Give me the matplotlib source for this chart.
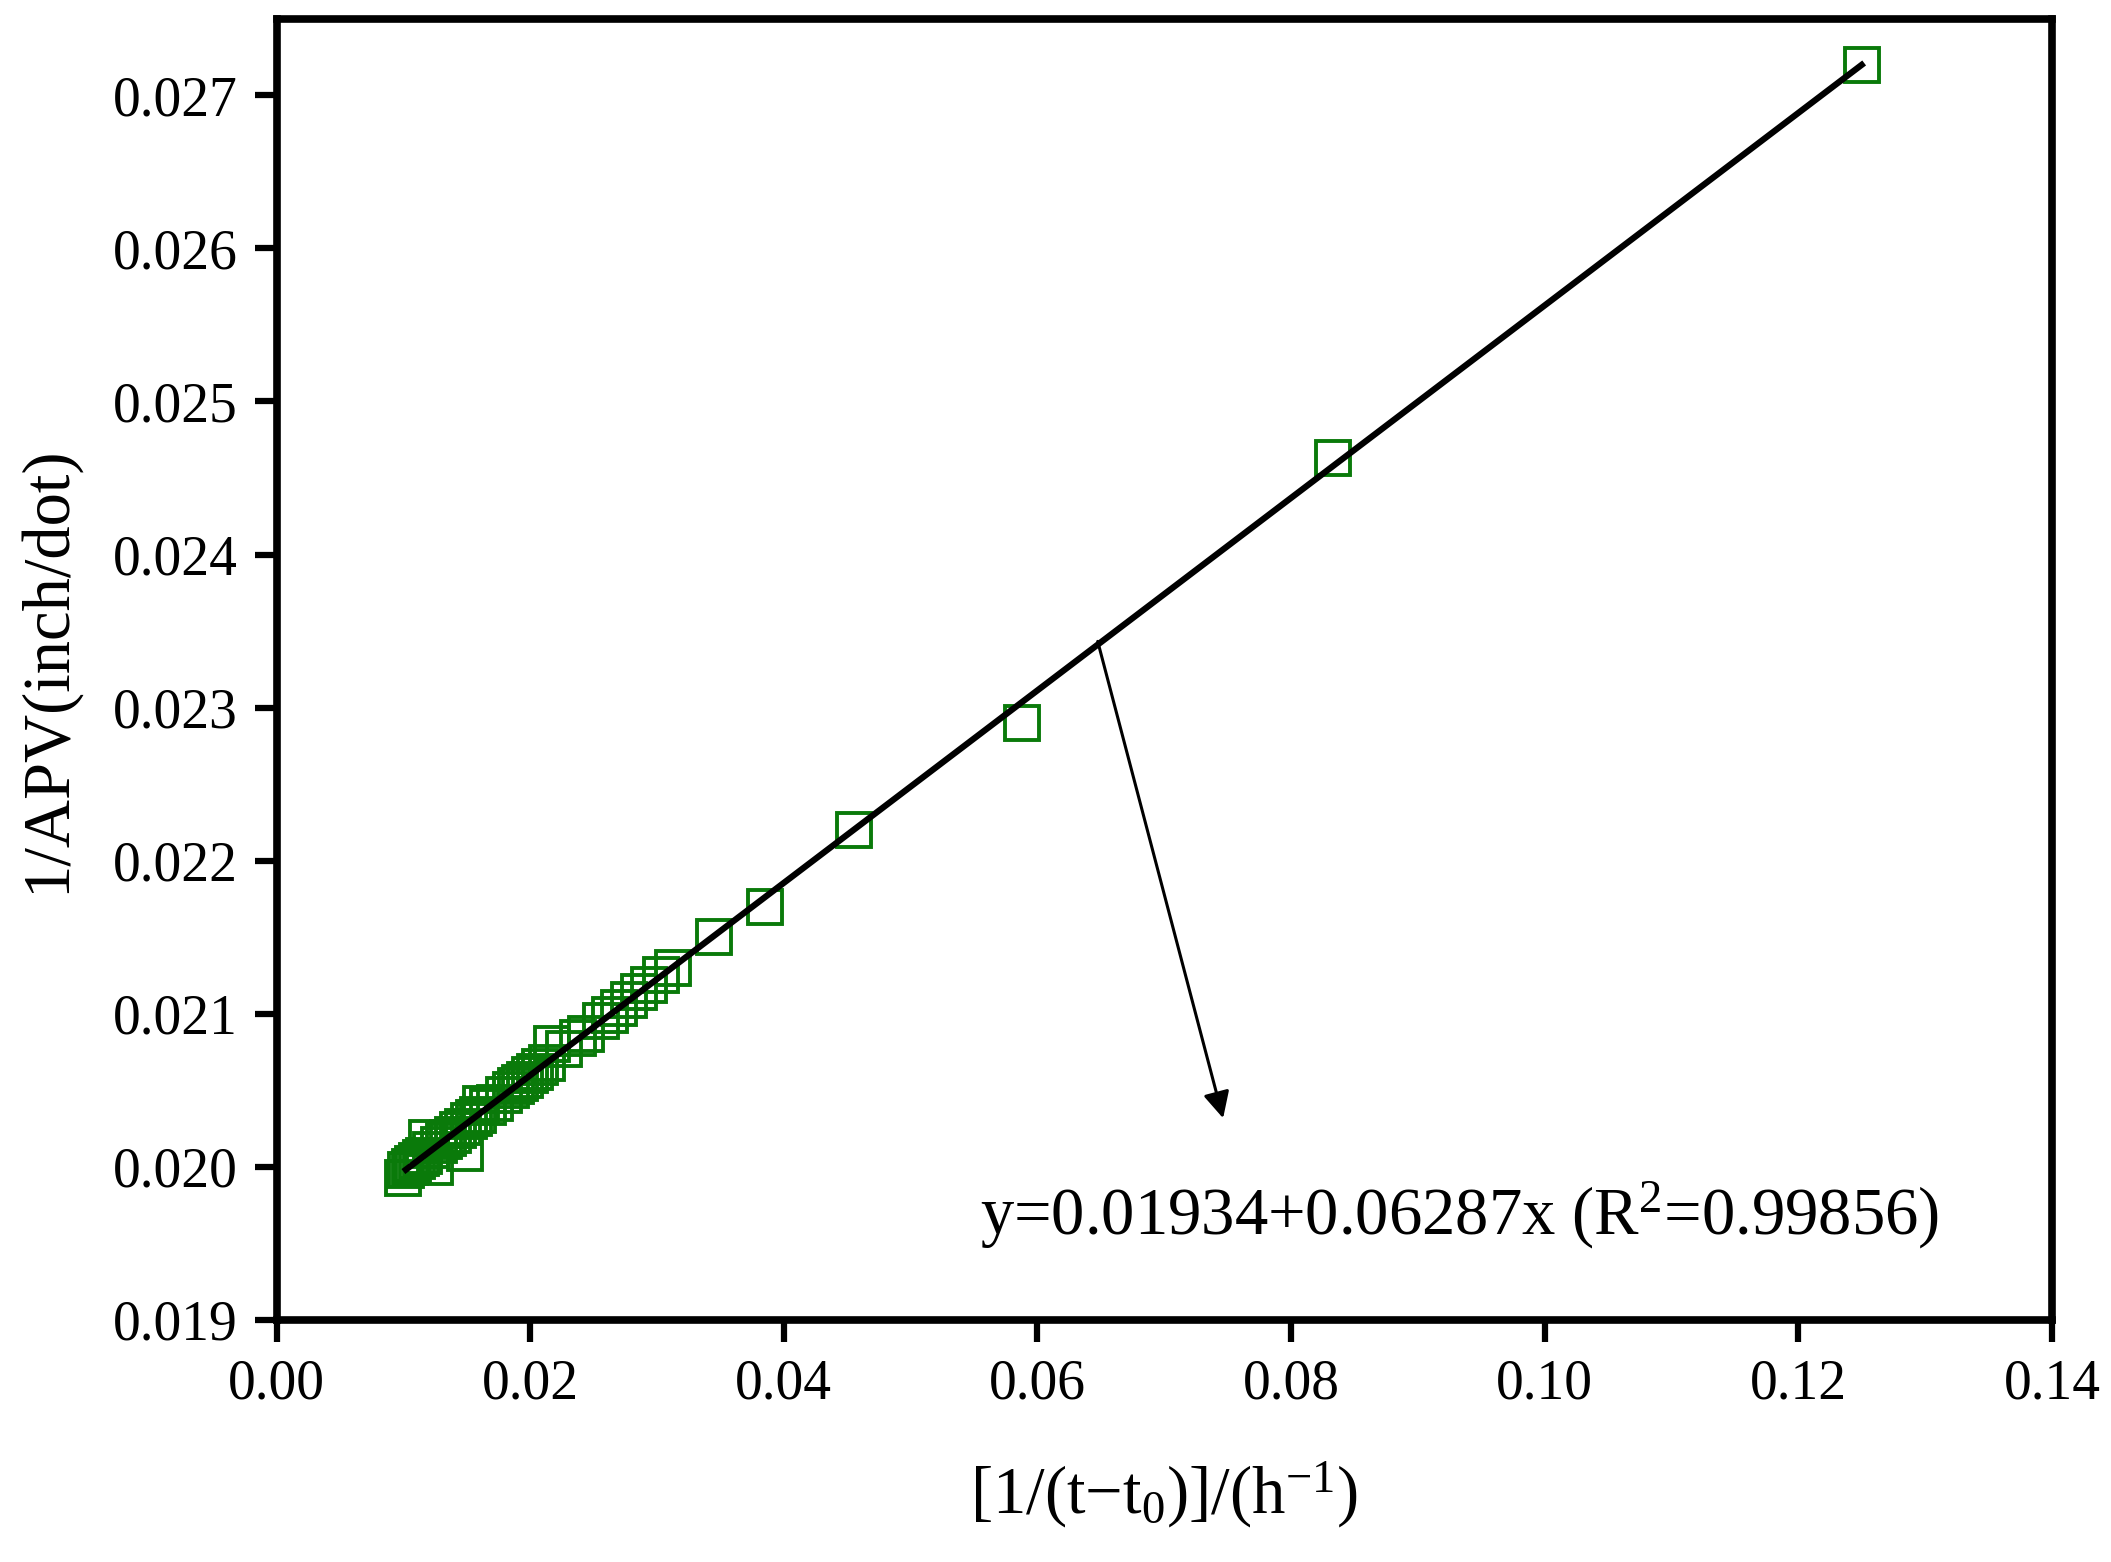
import matplotlib
matplotlib.use("Agg")
import matplotlib.pyplot as plt
import numpy as np

x_vals = [0.125,0.0833,0.0588,0.0455,0.0385,0.0345,0.0313,0.0303,0.0294,0.0286,0.0278,0.0270,0.0263,0.0256,0.0244,0.0238,0.0227,0.0217,0.0213,0.0208,0.0204,0.0200,0.0196,0.0192,0.0189,0.0185,0.0179,0.0172,0.0167,0.0161,0.0159,0.0156,0.0152,0.0149,0.0147,0.0143,0.0139,0.0135,0.0132,0.0128,0.0125,0.0122,0.0119,0.0116,0.0114,0.0111,0.0108,0.0105,0.0102,0.0100]
y_vals = [0.02720,0.02463,0.02290,0.02220,0.02170,0.02150,0.02130,0.02125,0.02119,0.02114,0.02109,0.02104,0.02099,0.02095,0.02087,0.02084,0.02077,0.02080,0.02068,0.02065,0.02062,0.02060,0.02057,0.02055,0.02053,0.02050,0.02047,0.02042,0.02039,0.02041,0.02034,0.02032,0.02030,0.02009,0.02026,0.02024,0.02021,0.02019,0.02017,0.02014,0.02000,0.02011,0.02019,0.02007,0.02006,0.02004,0.02002,0.02000,0.01998,0.01993]
intercept, slope = 0.01934, 0.06287
fit_x = [0.0102, 0.125]
x_ticks = [0.00,0.02,0.04,0.06,0.08,0.10,0.12,0.14]
y_ticks = [0.019,0.020,0.021,0.022,0.023,0.024,0.025,0.026,0.027]

plt.rcParams['font.family'] = ['Liberation Serif', 'DejaVu Serif']
plt.rcParams['mathtext.fontset'] = 'custom'
plt.rcParams['mathtext.rm'] = 'Liberation Serif'
plt.rcParams['mathtext.it'] = 'Liberation Serif'

fig = plt.figure(figsize=(21.11, 15.62), dpi=100)
ax = fig.add_axes([0.131, 0.155, 0.841, 0.833])
ax.plot(x_vals, y_vals, 's', mfc='none', mec='#0a7a0a', ms=24, mew=2.8, zorder=2)
fy = [intercept + slope*v for v in fit_x]
ax.plot(fit_x, fy, color='black', lw=4.5, zorder=3)
ax.set_xlim(0, 0.14)
ax.set_xticks(x_ticks)
ax.set_xticklabels([f"{v:.2f}" for v in x_ticks])
ax.set_yticks(y_ticks)
ax.set_yticklabels([f"{v:.3f}" for v in y_ticks])
ax.set_ylim(0.019, 0.0275)
ax.tick_params(direction='out', length=16, width=4.5, labelsize=40, pad=12)
for s in ax.spines.values():
    s.set_linewidth(5.5)
ax.set_xlabel(r"[1/(t$-$t$_0$)]/(h$^{-1}$)", fontsize=48, labelpad=35)
ax.set_ylabel("1/APV(inch/dot)", fontsize=48, labelpad=25)
ax.annotate("", xy=(0.0747, 0.02030), xytext=(0.0647, 0.02345),
            arrowprops=dict(arrowstyle='-|>', color='black', lw=2.2, mutation_scale=40))
ax.text(0.0555, 0.01968, r"y=0.01934+0.06287x (R$^2$=0.99856)", fontsize=48, va='center')
fig.savefig("out.png", dpi=100)
